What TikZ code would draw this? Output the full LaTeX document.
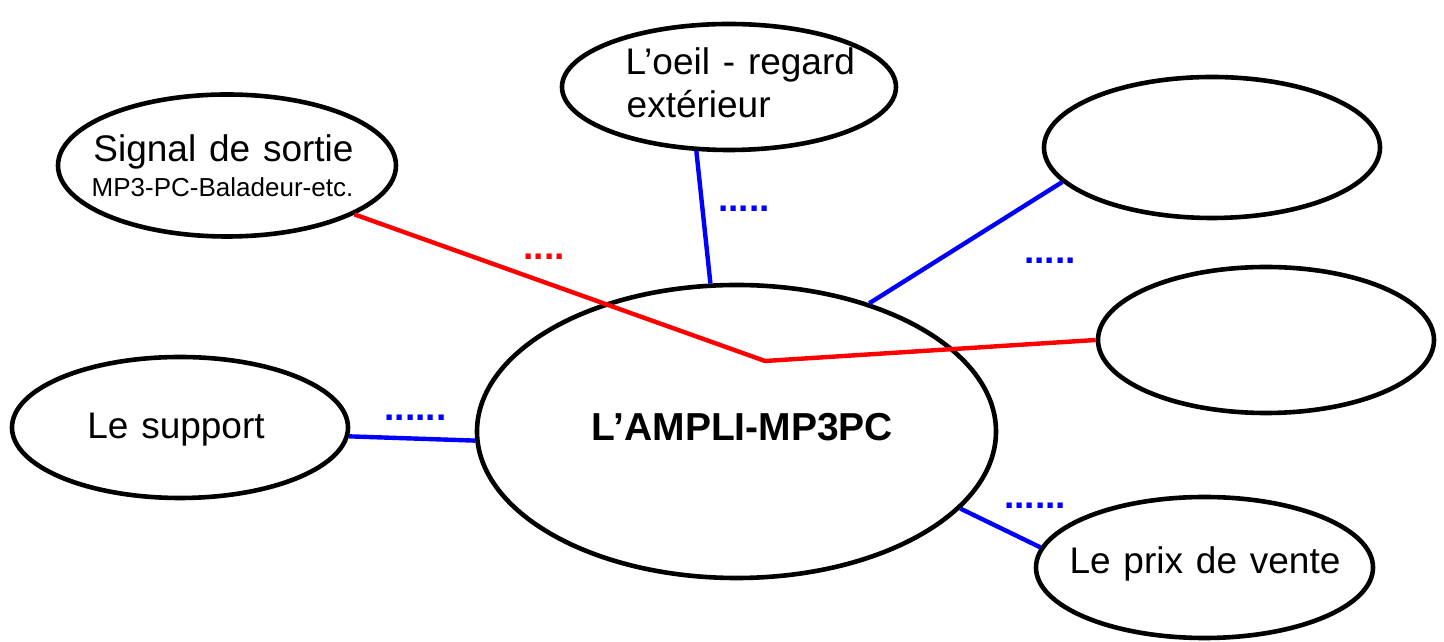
\documentclass[tikz,border=0pt]{standalone}
\usepackage{fontspec}
\setmainfont{Liberation Sans}[WordSpace=1.25]
\usetikzlibrary{shapes.geometric}
\begin{document}
\begin{tikzpicture}[x=1pt,y=1pt,
  bubble/.style={draw=black, line width=4.6pt, ellipse, inner sep=0pt},
  lbl/.style={inner sep=0pt, anchor=base, font=\fontsize{37}{43}\selectfont},
  lblwest/.style={inner sep=0pt, anchor=base west, font=\fontsize{37}{43}\selectfont},
  small/.style={inner sep=0pt, anchor=base, font=\fontsize{26}{30}\selectfont},
  title/.style={inner sep=0pt, anchor=base, font=\fontsize{39}{45}\selectfont\bfseries},
  bdots/.style={inner sep=0pt, anchor=base, text=blue, font=\fontsize{37}{43}\selectfont\bfseries},
  rdots/.style={inner sep=0pt, anchor=base, text=red, font=\fontsize{37}{43}\selectfont\bfseries},
  blink/.style={draw=blue, line width=4.4pt},
  rlink/.style={draw=red, line width=4.4pt, line join=miter}
]
\useasboundingbox (0,0) rectangle (1444,642);
% ellipses
\node[bubble, minimum width=338pt, minimum height=142pt] (sig) at (227,476.5) {};
\node[bubble, minimum width=334pt, minimum height=126pt] (oeil) at (729,555) {};
\node[bubble, minimum width=336pt, minimum height=141pt] (tr) at (1212,494.5) {};
\node[bubble, minimum width=336pt, minimum height=146pt] (rr) at (1266,302) {};
\node[bubble, minimum width=336pt, minimum height=141pt] (sup) at (180,214.5) {};
\node[bubble, minimum width=519pt, minimum height=293pt] (main) at (736.5,210.5) {};
\node[bubble, minimum width=337pt, minimum height=141pt] (prix) at (1204.5,74.5) {};
% texts
\node[lbl] (tsig1) at (223.5,480) {Signal de sortie};
\node[small] (tsig2) at (222.5,445) {MP3-PC-Baladeur-etc.};
\node[lblwest] (toeil1) at (625.5,567) {L’oeil - regard};
\node[lblwest] (toeil2) at (626.5,524) {extérieur};
\node[lbl] (tsup) at (176,203) {Le support};
\node[title] (tmain) at (742.5,201) {L’AMPLI-MP3PC};
\node[lbl] (tprix) at (1205,68) {Le prix de vente};
% dots
\node[rdots] (d1) at (544,382.4) {....};
\node[bdots] (d2) at (744,430.4) {.....};
\node[bdots] (d3) at (1050,378.4) {.....};
\node[bdots] (d4) at (415.5,221.4) {......};
\node[bdots] (d5) at (1035,133.4) {......};
% connectors
\coordinate (J) at (765,281);
\draw[rlink] (sig.-21) -- (J) -- (rr.180.7);
\draw[blink] (oeil.243.8) -- (main.100.3);
\draw[blink] (main.44.6) -- (tr.193);
\draw[blink] (sup.-3.6) -- (main.182.8);
\draw[blink] (main.-19) -- (prix.173.6);
\end{tikzpicture}
\end{document}
